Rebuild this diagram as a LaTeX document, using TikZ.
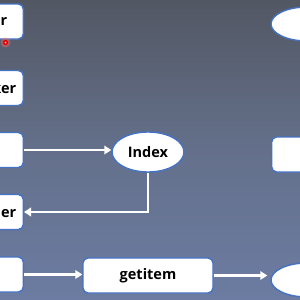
\documentclass[tikz,border=0pt]{standalone}
\usepackage{xcolor}
\usepackage{fontspec}
\setmainfont{Open Sans}
\usepackage{tikz}
\usetikzlibrary{arrows.meta, positioning, calc, shapes.geometric}
\definecolor{bgtop}{RGB}{82,87,99}
\definecolor{bgmid}{RGB}{100,112,139}
\definecolor{bgbot}{RGB}{108,124,162}
\definecolor{edgeblue}{RGB}{68,114,196}
\tikzset{
	plainbox/.style={draw=edgeblue, fill=white, rounded corners=5pt, line width=1.4pt, minimum height=35pt, font=\fontsize{14.5}{16}\selectfont\bfseries},
	sidebox/.style={plainbox, anchor=east, text width=40pt, align=right},
	ovalnode/.style={draw=edgeblue, fill=white, ellipse, line width=1.4pt, inner sep=0pt, font=\fontsize{14.5}{16}\selectfont\bfseries},
	flowarr/.style={-{Triangle[length=7pt,width=8.5pt]}, white, line width=2.4pt},
}

\begin{document}
\begin{tikzpicture}[x=1pt, y=-1pt]
				\useasboundingbox (0,0) rectangle (300,300);
				\shade[top color=bgtop, bottom color=bgbot, middle color=bgmid] (0,0) rectangle (300,300);
				\clip (0,0) rectangle (300,300);
				% left column, cut at the edge
				\node[sidebox, inner xsep=16pt] (it) at (24,21.5) {r};
				\node[sidebox, inner xsep=7pt] (tr) at (24,88) {ker};
				\node[sidebox, inner xsep=7pt] (sm) at (24,150) {};
				\node[sidebox, inner xsep=7pt] (ft) at (24,212) {her};
				\node[sidebox, inner xsep=7pt] (ds) at (24,274.5) {};
				% middle
				\node[ovalnode, minimum width=72pt, minimum height=40pt] (idx) at (148,152) {Index};
				\node[plainbox, minimum width=130pt] (gi) at (148,275.5) {getitem};
				% right column, cut at the edge
				\node[ovalnode, minimum width=72pt, minimum height=34pt] (e1) at (307,24) {};
				\node[plainbox, anchor=west, minimum width=80pt] (rb) at (271,154.5) {};
				\node[ovalnode, minimum width=72pt, minimum height=34pt] (e2) at (307,280) {};
				\draw[flowarr] (sm.east) -- (sm.east -| idx.west);
				\draw[flowarr] (idx.south) |- (ft.east);
				\draw[flowarr] (ds.east) -- (ds.east -| gi.west);
				\draw[flowarr] (gi.east) -- ($(gi.east -| e2.west)+(-3,0)$);
				% pointer
				\fill[red!60, opacity=0.45] (5.5,42.5) circle (5);
				\fill[red!90!black] (5.5,42.5) circle (2.6);
				\fill[red!25] (5.5,42.5) circle (1);
			\end{tikzpicture}
\end{document}
